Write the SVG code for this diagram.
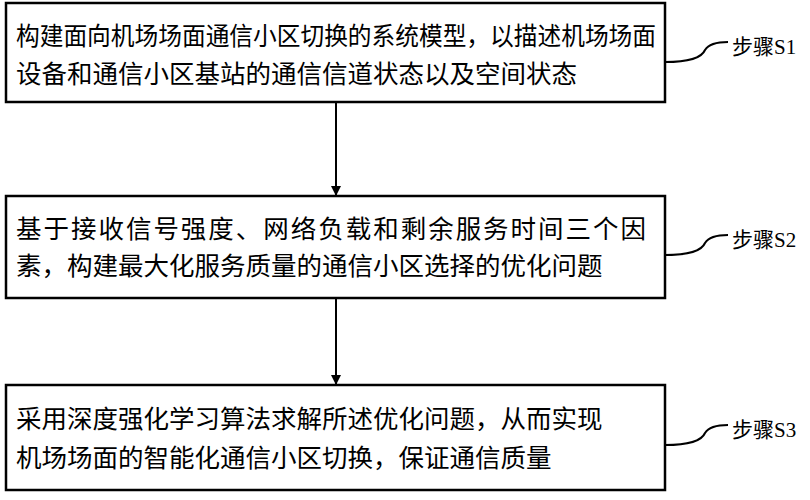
<svg xmlns="http://www.w3.org/2000/svg" width="810" height="500" viewBox="0 0 810 500">
<style>
.box{fill:#fff;stroke:#000;stroke-width:2.5}
.t{font-family:"Liberation Serif","Noto Sans CJK SC",serif;font-size:25.5px;fill:#000}
.l{font-family:"Liberation Serif","Noto Sans CJK SC",serif;font-size:21px;fill:#000}
.c{stroke:#000;stroke-width:2;fill:none}
</style>
<defs><marker id="a" markerWidth="10" markerHeight="10" refX="9" refY="5" orient="auto" markerUnits="userSpaceOnUse"><path d="M0,0 L10,5 L0,10 Z" fill="#000"/></marker></defs>
<rect width="810" height="500" fill="#fff"/>
<g id="s1"><rect class="box" x="6" y="3" width="659" height="99"/>
<text class="t" x="16" y="45" textLength="640" lengthAdjust="spacingAndGlyphs">构建面向机场场面通信小区切换的系统模型，以描述机场场面</text>
<text class="t" x="16" y="83">设备和通信小区基站的通信信道状态以及空间状态</text></g>
<g id="s2"><rect class="box" x="6" y="196" width="659" height="102"/>
<text class="t" x="16" y="238" textLength="630">基于接收信号强度、网络负载和剩余服务时间三个因</text>
<text class="t" x="16" y="275">素，构建最大化服务质量的通信小区选择的优化问题</text></g>
<g id="s3"><rect class="box" x="6" y="385" width="659" height="105"/>
<text class="t" x="16" y="428">采用深度强化学习算法求解所述优化问题，从而实现</text>
<text class="t" x="16" y="467">机场场面的智能化通信小区切换，保证通信质量</text></g>
<g id="connectors">
<line class="c" x1="336" y1="102" x2="336" y2="195" marker-end="url(#a)"/>
<line class="c" x1="336" y1="298" x2="336" y2="384" marker-end="url(#a)"/>
<path class="c" stroke-width="1.5" d="M665,62 Q700,62 705,50 Q710,42 728,42"/>
<path class="c" stroke-width="1.5" d="M665,255 Q700,255 705,243 Q710,235 728,235"/>
<path class="c" stroke-width="1.5" d="M665,445 Q700,445 705,433 Q710,425 728,425"/>
</g>
<text class="l" x="732" y="54">步骤S1</text>
<text class="l" x="732" y="247">步骤S2</text>
<text class="l" x="732" y="437">步骤S3</text>
</svg>
